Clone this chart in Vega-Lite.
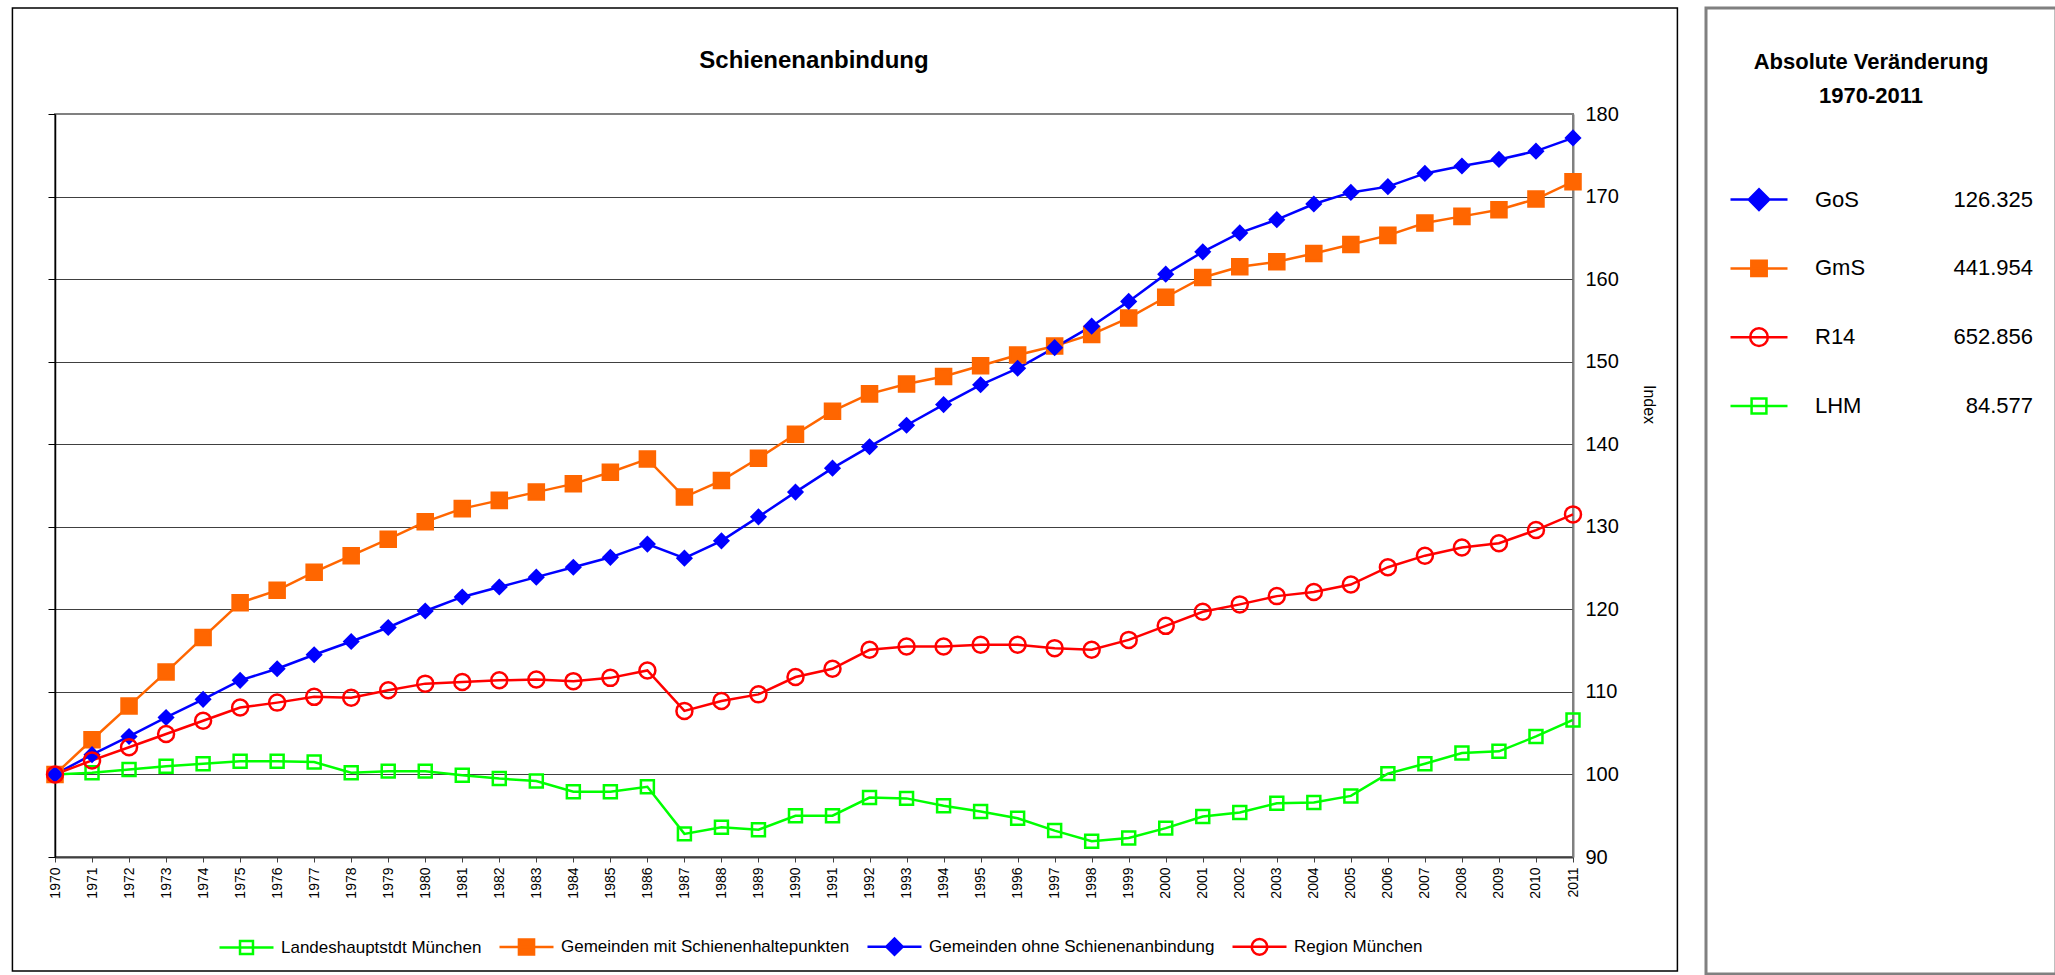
{
  "$schema": "https://vega.github.io/schema/vega-lite/v6.json",
  "background": "white",
  "padding": {"left": 10, "top": 6, "right": 0, "bottom": 0},
  "spacing": 24,
  "datasets": {
    "idx": [
      {"year": 1970, "LHM": 100.0, "GmS": 100.0, "GoS": 100.0, "R14": 100.0},
      {"year": 1971, "LHM": 100.2, "GmS": 104.2, "GoS": 102.4, "R14": 101.7},
      {"year": 1972, "LHM": 100.6, "GmS": 108.3, "GoS": 104.6, "R14": 103.3},
      {"year": 1973, "LHM": 101.0, "GmS": 112.4, "GoS": 106.9, "R14": 104.9},
      {"year": 1974, "LHM": 101.3, "GmS": 116.6, "GoS": 109.1, "R14": 106.5},
      {"year": 1975, "LHM": 101.6, "GmS": 120.8, "GoS": 111.4, "R14": 108.1},
      {"year": 1976, "LHM": 101.6, "GmS": 122.3, "GoS": 112.8, "R14": 108.7},
      {"year": 1977, "LHM": 101.5, "GmS": 124.5, "GoS": 114.5, "R14": 109.4},
      {"year": 1978, "LHM": 100.2, "GmS": 126.5, "GoS": 116.1, "R14": 109.3},
      {"year": 1979, "LHM": 100.4, "GmS": 128.5, "GoS": 117.8, "R14": 110.2},
      {"year": 1980, "LHM": 100.4, "GmS": 130.6, "GoS": 119.8, "R14": 111.0},
      {"year": 1981, "LHM": 99.9, "GmS": 132.2, "GoS": 121.5, "R14": 111.2},
      {"year": 1982, "LHM": 99.5, "GmS": 133.2, "GoS": 122.7, "R14": 111.4},
      {"year": 1983, "LHM": 99.2, "GmS": 134.2, "GoS": 123.9, "R14": 111.5},
      {"year": 1984, "LHM": 97.9, "GmS": 135.2, "GoS": 125.1, "R14": 111.3},
      {"year": 1985, "LHM": 97.9, "GmS": 136.6, "GoS": 126.3, "R14": 111.7},
      {"year": 1986, "LHM": 98.5, "GmS": 138.2, "GoS": 127.9, "R14": 112.6},
      {"year": 1987, "LHM": 92.8, "GmS": 133.6, "GoS": 126.2, "R14": 107.7},
      {"year": 1988, "LHM": 93.6, "GmS": 135.6, "GoS": 128.3, "R14": 108.9},
      {"year": 1989, "LHM": 93.3, "GmS": 138.3, "GoS": 131.2, "R14": 109.7},
      {"year": 1990, "LHM": 95.0, "GmS": 141.2, "GoS": 134.2, "R14": 111.8},
      {"year": 1991, "LHM": 95.0, "GmS": 144.0, "GoS": 137.1, "R14": 112.8},
      {"year": 1992, "LHM": 97.2, "GmS": 146.1, "GoS": 139.7, "R14": 115.1},
      {"year": 1993, "LHM": 97.1, "GmS": 147.3, "GoS": 142.3, "R14": 115.5},
      {"year": 1994, "LHM": 96.2, "GmS": 148.2, "GoS": 144.8, "R14": 115.5},
      {"year": 1995, "LHM": 95.5, "GmS": 149.5, "GoS": 147.2, "R14": 115.7},
      {"year": 1996, "LHM": 94.7, "GmS": 150.8, "GoS": 149.2, "R14": 115.7},
      {"year": 1997, "LHM": 93.2, "GmS": 151.9, "GoS": 151.7, "R14": 115.3},
      {"year": 1998, "LHM": 91.9, "GmS": 153.3, "GoS": 154.3, "R14": 115.1},
      {"year": 1999, "LHM": 92.3, "GmS": 155.3, "GoS": 157.3, "R14": 116.3},
      {"year": 2000, "LHM": 93.5, "GmS": 157.8, "GoS": 160.6, "R14": 118.0},
      {"year": 2001, "LHM": 94.9, "GmS": 160.2, "GoS": 163.3, "R14": 119.7},
      {"year": 2002, "LHM": 95.4, "GmS": 161.5, "GoS": 165.6, "R14": 120.6},
      {"year": 2003, "LHM": 96.5, "GmS": 162.1, "GoS": 167.2, "R14": 121.6},
      {"year": 2004, "LHM": 96.6, "GmS": 163.1, "GoS": 169.1, "R14": 122.1},
      {"year": 2005, "LHM": 97.4, "GmS": 164.2, "GoS": 170.5, "R14": 123.0},
      {"year": 2006, "LHM": 100.1, "GmS": 165.3, "GoS": 171.2, "R14": 125.1},
      {"year": 2007, "LHM": 101.3, "GmS": 166.8, "GoS": 172.8, "R14": 126.5},
      {"year": 2008, "LHM": 102.6, "GmS": 167.6, "GoS": 173.7, "R14": 127.5},
      {"year": 2009, "LHM": 102.8, "GmS": 168.4, "GoS": 174.5, "R14": 128.0},
      {"year": 2010, "LHM": 104.6, "GmS": 169.7, "GoS": 175.5, "R14": 129.6},
      {"year": 2011, "LHM": 106.6, "GmS": 171.8, "GoS": 177.1, "R14": 131.5}
    ],
    "panel": [
      {"kind": "head", "text": "Absolute Veränderung", "slot": 0},
      {"kind": "head", "text": "1970-2011", "slot": 1},
      {"kind": "row", "abbr": "GoS", "change": 126325, "slot": 4},
      {"kind": "row", "abbr": "GmS", "change": 441954, "slot": 6},
      {"kind": "row", "abbr": "R14", "change": 652856, "slot": 8},
      {"kind": "row", "abbr": "LHM", "change": 84577, "slot": 10}
    ],
    "one": [{}],
    "heading": [{"t": "Schienenanbindung"}]
  },
  "config": {
    "font": "Liberation Sans",
    "locale": {"number": {"decimal": ",", "thousands": ".", "grouping": [3], "currency": ["", " €"]}},
    "axis": {"labelColor": "black", "titleColor": "black", "labelFont": "Liberation Sans", "titleFont": "Liberation Sans", "titleFontWeight": "normal", "labelFontWeight": "normal"},
    "legend": {"labelFont": "Liberation Sans"},
    "title": {"font": "Liberation Sans"},
    "text": {"font": "Liberation Sans"}
  },
  "resolve": {
    "scale": {"x": "independent", "y": "independent", "stroke": "independent", "fill": "independent", "shape": "independent"},
    "legend": {"stroke": "independent", "fill": "independent", "shape": "independent"}
  },
  "hconcat": [
    {
      "vconcat": [
        {
          "width": 1518,
          "height": 106,
          "view": {"stroke": null},
          "data": {"name": "heading"},
          "mark": {"type": "text", "fontSize": 24, "fontWeight": "bold", "color": "black", "align": "center", "baseline": "middle"},
          "encoding": {"text": {"field": "t"}}
        },
        {
          "width": 1518,
          "height": 743,
          "view": {"stroke": "#808080", "strokeWidth": 2},
          "resolve": {
            "scale": {"stroke": "independent", "fill": "independent", "shape": "independent"},
            "legend": {"stroke": "independent", "fill": "independent", "shape": "independent"},
            "axis": {"y": "independent"}
          },
          "layer": [
            {
              "data": {"name": "idx"},
              "transform": [{"fold": ["LHM", "GmS", "GoS", "R14"], "as": ["series", "value"]}],
              "mark": {"type": "line", "strokeWidth": 2.5},
              "encoding": {
                "x": {"field": "year", "type": "quantitative", "scale": {"domain": [1970, 2011], "nice": false, "zero": false},
                  "axis": {"values": [1970,1971,1972,1973,1974,1975,1976,1977,1978,1979,1980,1981,1982,1983,1984,1985,1986,1987,1988,1989,1990,1991,1992,1993,1994,1995,1996,1997,1998,1999,2000,2001,2002,2003,2004,2005,2006,2007,2008,2009,2010,2011], "format": "d", "labelAngle": -90, "labelFontSize": 14, "labelPadding": 5, "tickSize": 5, "tickColor": "#404040", "tickWidth": 1, "domainColor": "#404040", "domainWidth": 2, "grid": false, "title": null, "labelOverlap": false, "labelFlush": false}},
                "y": {"field": "value", "type": "quantitative", "scale": {"domain": [90, 180], "nice": false, "zero": false},
                  "axis": {"orient": "left", "values": [90,100,110,120,130,140,150,160,170,180], "labels": false, "ticks": true, "tickSize": 7, "tickColor": "black", "tickWidth": 1, "domainColor": "black", "domainWidth": 1.5, "grid": true, "gridColor": {"condition": {"test": "datum.value == 90 || datum.value == 180", "value": "transparent"}, "value": "#404040"}, "gridWidth": 1, "title": null}},
                "stroke": {"field": "series", "type": "nominal", "scale": {"domain": ["LHM", "GmS", "GoS", "R14"], "range": ["#00FF00", "#FF6600", "#0000FF", "#FF0000"]}, "legend": null}
              }
            },
            {
              "data": {"name": "idx"},
              "transform": [{"fold": ["LHM", "GmS", "GoS", "R14"], "as": ["series", "value"]}],
              "mark": {"type": "point", "strokeWidth": 2.5, "opacity": 1, "size": 256},
              "encoding": {
                "x": {"field": "year", "type": "quantitative", "scale": {"domain": [1970, 2011], "nice": false, "zero": false},
                  "axis": {"values": [1970,1971,1972,1973,1974,1975,1976,1977,1978,1979,1980,1981,1982,1983,1984,1985,1986,1987,1988,1989,1990,1991,1992,1993,1994,1995,1996,1997,1998,1999,2000,2001,2002,2003,2004,2005,2006,2007,2008,2009,2010,2011], "format": "d", "labelAngle": -90, "labelFontSize": 14, "labelPadding": 5, "tickSize": 5, "tickColor": "#404040", "tickWidth": 1, "domainColor": "#404040", "domainWidth": 2, "grid": false, "title": null, "labelOverlap": false, "labelFlush": false}},
                "y": {"field": "value", "type": "quantitative", "scale": {"domain": [90, 180], "nice": false, "zero": false},
                  "axis": {"orient": "right", "values": [90,100,110,120,130,140,150,160,170,180], "ticks": false, "tickSize": 0, "labelFontSize": 20, "labelPadding": 12, "labelAlign": "left", "labelBaseline": "middle", "domainColor": "#808080", "domainWidth": 2, "grid": false, "title": "Index", "titleFontSize": 16, "titleAngle": 90, "titleX": 75, "titleY": 290, "titleAlign": "center", "titleBaseline": "middle"}},
                "stroke": {"field": "series", "type": "nominal", "scale": {"domain": ["LHM", "GmS", "GoS", "R14"], "range": ["#00FF00", "#FF6600", "#0000FF", "#FF0000"]}, "legend": null},
                "fill": {"field": "series", "type": "nominal", "scale": {"domain": ["LHM", "GmS", "GoS", "R14"], "range": ["transparent", "#FF6600", "#0000FF", "transparent"]}, "legend": null},
                "shape": {"field": "series", "type": "nominal", "scale": {"domain": ["LHM", "GmS", "GoS", "R14"], "range": ["M-0.81,-0.81H0.81V0.81H-0.81Z", "M-0.94,-0.94H0.94V0.94H-0.94Z", "M-0.85,0L0,-0.85L0.85,0L0,0.85Z", "circle"]}, "legend": null}
              }
            },
            {
              "data": {"name": "idx"},
              "transform": [{"fold": ["LHM", "GmS", "GoS", "R14"], "as": ["series", "value"]}],
              "mark": {"type": "point", "strokeWidth": 2.5, "opacity": 0, "size": 256},
              "encoding": {
                "x": {"field": "year", "type": "quantitative", "scale": {"domain": [1970, 2011], "nice": false, "zero": false},
                  "axis": {"values": [1970,1971,1972,1973,1974,1975,1976,1977,1978,1979,1980,1981,1982,1983,1984,1985,1986,1987,1988,1989,1990,1991,1992,1993,1994,1995,1996,1997,1998,1999,2000,2001,2002,2003,2004,2005,2006,2007,2008,2009,2010,2011], "format": "d", "labelAngle": -90, "labelFontSize": 14, "labelPadding": 5, "tickSize": 5, "tickColor": "#404040", "tickWidth": 1, "domainColor": "#404040", "domainWidth": 2, "grid": false, "title": null, "labelOverlap": false, "labelFlush": false}},
                "y": {"field": "value", "type": "quantitative", "scale": {"domain": [90, 180], "nice": false, "zero": false}, "axis": null},
                "stroke": {"field": "series", "type": "nominal", "scale": {"domain": ["LHM", "GmS", "GoS", "R14"], "range": ["#00FF00", "#FF6600", "#0000FF", "#FF0000"]},
                  "legend": {"title": null, "orient": "none", "legendX": 163, "legendY": 804, "direction": "horizontal", "columns": 4, "symbolSize": 2916, "symbolStrokeWidth": 2.5, "symbolOpacity": 1, "labelFontSize": 17, "labelColor": "black", "labelLimit": 600, "labelOffset": 6, "columnPadding": 12, "padding": 0,
                    "labelExpr": "datum.value == 'LHM' ? 'Landeshauptstdt München' : datum.value == 'GmS' ? 'Gemeinden mit Schienenhaltepunkten' : datum.value == 'GoS' ? 'Gemeinden ohne Schienenanbindung' : 'Region München'"}},
                "fill": {"field": "series", "type": "nominal", "scale": {"domain": ["LHM", "GmS", "GoS", "R14"], "range": ["transparent", "#FF6600", "#0000FF", "transparent"]},
                  "legend": {"title": null, "orient": "none", "legendX": 163, "legendY": 804, "direction": "horizontal", "columns": 4, "symbolSize": 2916, "symbolStrokeWidth": 2.5, "symbolOpacity": 1, "labelFontSize": 17, "labelColor": "black", "labelLimit": 600, "labelOffset": 6, "columnPadding": 12, "padding": 0,
                    "labelExpr": "datum.value == 'LHM' ? 'Landeshauptstdt München' : datum.value == 'GmS' ? 'Gemeinden mit Schienenhaltepunkten' : datum.value == 'GoS' ? 'Gemeinden ohne Schienenanbindung' : 'Region München'"}},
                "shape": {"field": "series", "type": "nominal", "scale": {"domain": ["LHM", "GmS", "GoS", "R14"], "range": ["M-1,0H1M-0.24,-0.24H0.24V0.24H-0.24Z", "M-1,0H1M-0.28,-0.28H0.28V0.28H-0.28Z", "M-1,0H1M-0.3,0L0,-0.3L0.3,0L0,0.3Z", "M-1,0H1M-0.29,0A0.29,0.29,0,1,0,0.29,0A0.29,0.29,0,1,0,-0.29,0Z"]},
                  "legend": {"title": null, "orient": "none", "legendX": 163, "legendY": 804, "direction": "horizontal", "columns": 4, "symbolSize": 2916, "symbolStrokeWidth": 2.5, "symbolOpacity": 1, "labelFontSize": 17, "labelColor": "black", "labelLimit": 600, "labelOffset": 6, "columnPadding": 12, "padding": 0,
                    "labelExpr": "datum.value == 'LHM' ? 'Landeshauptstdt München' : datum.value == 'GmS' ? 'Gemeinden mit Schienenhaltepunkten' : datum.value == 'GoS' ? 'Gemeinden ohne Schienenanbindung' : 'Region München'"}}
              }
            },
            {
              "data": {"name": "one"},
              "mark": {"type": "rect", "filled": false, "stroke": "black", "strokeWidth": 1.5, "clip": false},
              "encoding": {
                "x": {"datum": 1968.85, "type": "quantitative", "scale": {"domain": [1970, 2011], "nice": false, "zero": false},
                  "axis": {"values": [1970,1971,1972,1973,1974,1975,1976,1977,1978,1979,1980,1981,1982,1983,1984,1985,1986,1987,1988,1989,1990,1991,1992,1993,1994,1995,1996,1997,1998,1999,2000,2001,2002,2003,2004,2005,2006,2007,2008,2009,2010,2011], "format": "d", "labelAngle": -90, "labelFontSize": 14, "labelPadding": 5, "tickSize": 5, "tickColor": "#404040", "tickWidth": 1, "domainColor": "#404040", "domainWidth": 2, "grid": false, "title": null, "labelOverlap": false, "labelFlush": false}},
                "x2": {"datum": 2013.82},
                "y": {"datum": 192.84, "type": "quantitative", "scale": {"domain": [90, 180], "nice": false, "zero": false}, "axis": null},
                "y2": {"datum": 76.19}
              }
            }
          ]
        }
      ],
      "spacing": 0,
      "bounds": "flush"
    },
    {
      "width": 350,
      "height": 966,
      "view": {"stroke": "#808080", "strokeWidth": 3},
      "data": {"name": "panel"},
      "layer": [
        {
          "transform": [{"filter": "datum.kind == 'head'"}],
          "mark": {"type": "text", "fontSize": 22, "fontWeight": "bold", "baseline": "middle", "align": "center", "color": "black", "dx": -10},
          "encoding": {
            "y": {"field": "slot", "type": "quantitative", "scale": {"domain": [0, 10], "range": [54, 398]}, "axis": null},
            "text": {"field": "text"}
          }
        },
        {
          "transform": [{"filter": "datum.kind == 'row'"}],
          "mark": {"type": "point", "size": 3249, "strokeWidth": 2.5, "opacity": 1},
          "encoding": {
            "x": {"datum": "symbol", "type": "nominal", "scale": {"type": "point", "domain": ["symbol", "label", "value"], "range": [53, 327], "padding": 0}, "axis": null},
            "y": {"field": "slot", "type": "quantitative", "scale": {"domain": [0, 10], "range": [54, 398]}, "axis": null},
            "shape": {"field": "abbr", "type": "nominal", "scale": {"domain": ["GoS", "GmS", "R14", "LHM"], "range": ["M-1,0H1M-0.36,0L0,-0.36L0.36,0L0,0.36Z", "M-1,0H1M-0.27,-0.27H0.27V0.27H-0.27Z", "M-1,0H1M-0.31,0A0.31,0.31,0,1,0,0.31,0A0.31,0.31,0,1,0,-0.31,0Z", "M-1,0H1M-0.26,-0.26H0.26V0.26H-0.26Z"]}, "legend": null},
            "stroke": {"field": "abbr", "type": "nominal", "scale": {"domain": ["GoS", "GmS", "R14", "LHM"], "range": ["#0000FF", "#FF6600", "#FF0000", "#00FF00"]}, "legend": null},
            "fill": {"field": "abbr", "type": "nominal", "scale": {"domain": ["GoS", "GmS", "R14", "LHM"], "range": ["#0000FF", "#FF6600", "transparent", "transparent"]}, "legend": null}
          }
        },
        {
          "transform": [{"filter": "datum.kind == 'row'"}],
          "mark": {"type": "text", "fontSize": 22, "baseline": "middle", "align": "left", "dx": -81, "color": "black"},
          "encoding": {
            "x": {"datum": "label", "type": "nominal", "scale": {"type": "point", "domain": ["symbol", "label", "value"], "range": [53, 327], "padding": 0}, "axis": null},
            "y": {"field": "slot", "type": "quantitative", "scale": {"domain": [0, 10], "range": [54, 398]}, "axis": null},
            "text": {"field": "abbr"}
          }
        },
        {
          "transform": [{"filter": "datum.kind == 'row'"}],
          "mark": {"type": "text", "fontSize": 22, "baseline": "middle", "align": "right", "color": "black"},
          "encoding": {
            "x": {"datum": "value", "type": "nominal", "scale": {"type": "point", "domain": ["symbol", "label", "value"], "range": [53, 327], "padding": 0}, "axis": null},
            "y": {"field": "slot", "type": "quantitative", "scale": {"domain": [0, 10], "range": [54, 398]}, "axis": null},
            "text": {"field": "change", "type": "quantitative", "format": ",d"}
          }
        }
      ]
    }
  ]
}
